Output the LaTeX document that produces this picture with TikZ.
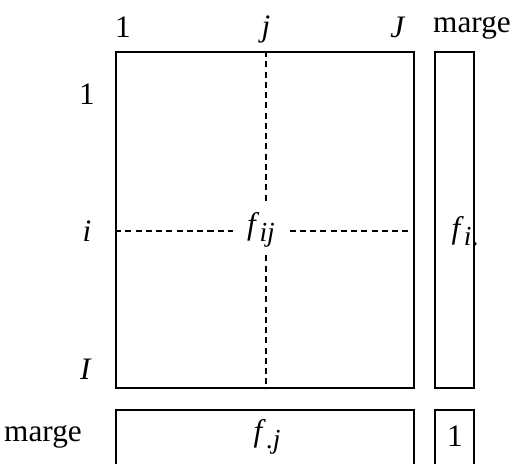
\documentclass[tikz,border=0pt]{standalone}
\usepackage{fontspec}
\setmainfont{Liberation Serif}
\newcommand{\itx}[1]{\textit{#1}}
\newcommand{\idx}[1]{\raisebox{-0.5ex}{\fontsize{11}{12}\selectfont #1}}
\begin{document}
\begin{tikzpicture}[x=0.4pt, y=-0.4pt,
        every node/.style={font=\fontsize{12.5}{14}\selectfont},
        box/.style={draw, line width=0.6pt, inner sep=0pt, minimum width=119.2pt},
        marg/.style={draw, line width=0.6pt, inner sep=0pt, minimum width=15.6pt},
        lbl/.style={inner sep=0pt},
        cut/.style={dashed, line width=0.6pt, dash pattern=on 2.4pt off 1.7pt}]
    \useasboundingbox (0,0) rectangle (514,464);
    % tableau
    \node[box, minimum height=134.4pt] (tab) at (265,220) {};
    \node[marg, minimum height=134.4pt] (row) at (454.5,220) {};
    \node[box, minimum height=24pt] (col) at (265,440) {};
    \node[marg, minimum height=24pt] (tot) at (454.5,440) {};
    % en-tetes
    \node[lbl] (c1) at (123,27) {1};
    \node[lbl] (cj) at (266,29) {\itx{j}};
    \node[lbl] (cJ) at (398,27) {\itx{J}};
    \node[lbl] (cm) at (472,28) {marge};
    \node[lbl] (r1) at (87,94) {1};
    \node[lbl] (ri) at (87,231) {\itx{i}};
    \node[lbl] (rI) at (86,369) {\itx{I}};
    \node[lbl] (rm) at (43,437) {marge};
    % contenus
    \node[inner sep=0pt, minimum width=22.4pt, minimum height=20pt] (fij) at (261,230) {\itx{f}\idx{\itx{ij}}};
    \node[lbl] (fi) at (465,231) {\itx{f}\idx{\itx{i}.}};
    \node[lbl] (fj) at (267,437) {\itx{f}\idx{.\itx{j}}};
    \node[lbl] (un) at (455,436) {1};
    \draw[cut] (tab.west |- ri) -- (fij.west |- ri);
    \draw[cut] (fij.east |- ri) -- (tab.east |- ri);
    \draw[cut] (tab.north -| cj) -- (fij.north -| cj);
    \draw[cut] (fij.south -| cj) -- (tab.south -| cj);
\end{tikzpicture}
\end{document}
